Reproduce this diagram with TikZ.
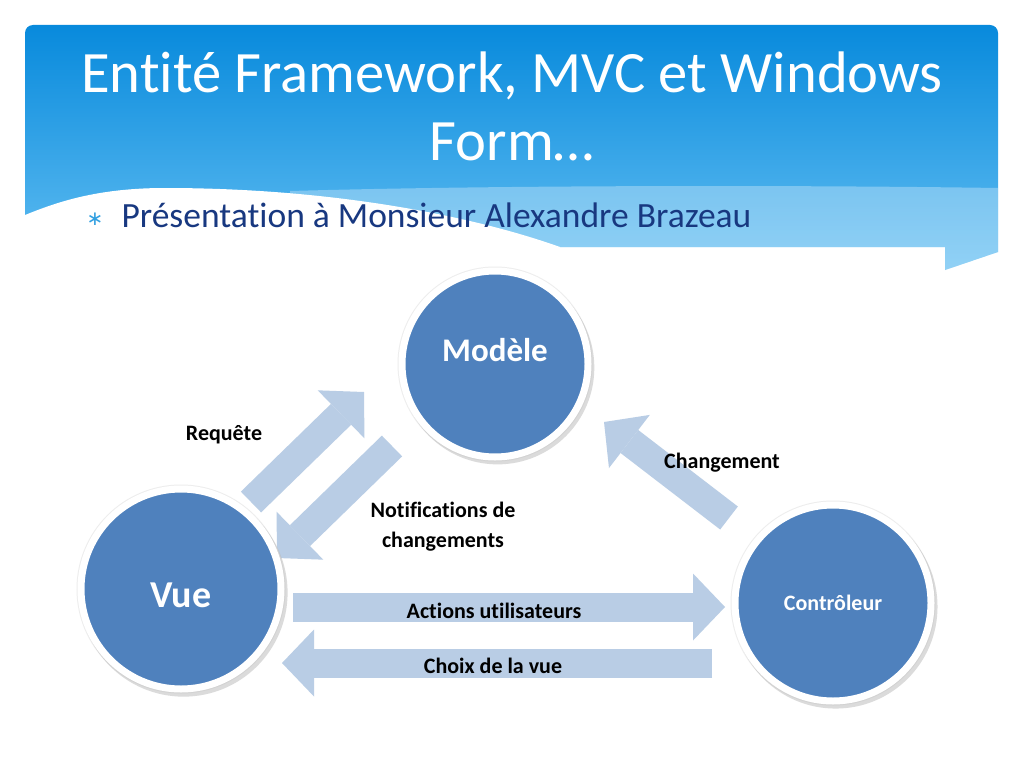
\documentclass[tikz,border=0pt]{standalone}
\usepackage{fontspec}
\setmainfont{Carlito}[Ligatures=NoCommon]
\newfontfamily\symfont{DejaVu Sans}
\usetikzlibrary{
  arrows.meta, % Triangle tips for the block arrows
  shadows      % drop shadow under the circles
}
\definecolor{bannertop}{RGB}{8,138,220}
\definecolor{bannerbot}{RGB}{98,190,242}
\definecolor{mvcblue}{RGB}{79,129,189}
\definecolor{flowblue}{RGB}{185,205,229}
\definecolor{subtitleblue}{RGB}{24,56,128}
\definecolor{starblue}{RGB}{50,160,225}

\begin{document}
\begin{tikzpicture}[x=1pt, y=-1pt,
  mvcnode/.style={circle, inner sep=0pt, fill=mvcblue, draw=white, line width=7pt,
    text=white, preaction={draw=black!7, line width=9pt},
    drop shadow={shadow xshift=2.5pt, shadow yshift=-3.5pt, shadow scale=1.04,
      fill=black!28}},
  flow/.style={line width=29pt, draw=flowblue,
    -{Triangle[length=32pt, width=67pt, line width=0pt]}},
  lbl/.style={font=\bfseries\fontsize{22}{30}\selectfont, align=center}]

  % ===== page =====
  \fill[white] (0,0) rectangle (1024,768);
  \useasboundingbox (0,0) rectangle (1024,768);

  % ===== banner =====
  \shade[top color=bannertop, bottom color=bannerbot]
    (25,247) -- (25,33) arc[start angle=180, end angle=270, radius=8]
    -- (990,25) arc[start angle=270, end angle=360, radius=8]
    -- (998,252) -- (945,270) -- (945,247) -- cycle;
  % lighter wave band
  \fill[white, opacity=0.3]
    (290,191) .. controls (500,185) and (800,185) .. (998,188)
    -- (998,252) -- (945,270) -- (945,247) -- (290,247) -- cycle;
  % white wave
  \fill[white] (24,215) -- (25,215) .. controls (55,203) and (95,188) .. (165,188)
    .. controls (330,188) and (470,215) .. (560,247) -- (560,250) -- (24,250) -- cycle;

  \node[text=white, font=\fontsize{58.6}{68}\selectfont, align=center, anchor=base]
    (title) at (512,160) {Entité Framework, MVC et Windows\\Form…};
  \node[anchor=base, text=starblue, font=\symfont\fontsize{20}{20}\selectfont]
    (star) at (95,225) {∗};
  \node[anchor=base west, text=subtitleblue, font=\fontsize{35.5}{40}\selectfont]
    (subtitle) at (118,227) {Présentation à Monsieur Alexandre Brazeau};

  % ===== arrow ends =====
  \coordinate (req-s)   at (251,502);
  \coordinate (req-e)   at (364,392);
  \coordinate (notif-s) at (392,446);
  \coordinate (notif-e) at (277,558);
  \coordinate (chg-s)   at (729,518);
  \coordinate (chg-e)   at (604,422);
  \coordinate (act-s)   at (293,607);
  \coordinate (act-e)   at (725,607);
  \coordinate (choix-s) at (712,663);
  \coordinate (choix-e) at (282,663);

  \draw[flow] (req-s) -- (req-e);
  \draw[flow] (notif-s) -- (notif-e);
  \draw[flow] (chg-s) -- (chg-e);
  \draw[flow] (act-s) -- (act-e);
  \draw[flow] (choix-s) -- (choix-e);

  % ===== circles =====
  \node[mvcnode, minimum size=186pt, font=\bfseries\fontsize{33}{33}\selectfont,
    text height=20pt, text depth=25pt] (modele) at (495,364) {Modèle};
  \node[mvcnode, minimum size=200pt, font=\bfseries\fontsize{38}{38}\selectfont,
    text height=36pt, text depth=0pt] (vue) at (181,589) {Vue};
  \node[mvcnode, minimum size=196pt, font=\bfseries\fontsize{22}{22}\selectfont]
    (ctrl) at (833,603) {Contrôleur};

  % ===== labels =====
  \node[lbl] (lbl-req) at (224,435) {Requête};
  \node[lbl] (lbl-notif) at (443,527) {Notifications de\\changements};
  \node[lbl] (lbl-chg) at (722,463) {Changement};
  \node[lbl] (lbl-act) at (494,611) {Actions utilisateurs};
  \node[lbl] (lbl-choix) at (493,666) {Choix de la vue};
\end{tikzpicture}
\end{document}
